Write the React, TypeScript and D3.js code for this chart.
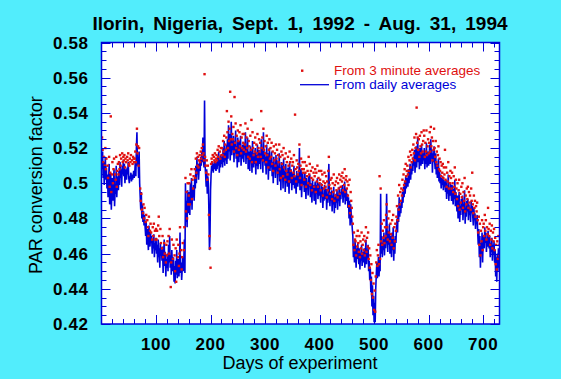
import React from 'react';
import * as d3 from 'd3';

// PAR conversion factor from daily averages, days 1..730
const dailyAvg: number[] = [
  .508,.518,.503,.512,.499,.507,.515,.502,.509,.497,
  .505,.492,.500,.511,.488,.498,.506,.485,.496,.503,
  .490,.501,.508,.487,.497,.494,.510,.492,.500,.504,
  .496,.507,.499,.512,.503,.508,.498,.510,.505,.513,
  .504,.511,.500,.508,.506,.502,.509,.505,.512,.503,
  .500,.504,.503,.506,.501,.505,.502,.504,.507,.503,
  .506,.512,.504,.520,.529,.510,.515,.503,.518,.500,
  .492,.485,.495,.480,.488,.478,.484,.476,.482,.475,
  .470,.478,.465,.474,.468,.462,.476,.469,.464,.472,
  .466,.470,.460,.468,.463,.471,.458,.466,.462,.469,
  .460,.465,.455,.468,.458,.463,.452,.466,.459,.462,
  .456,.464,.449,.458,.468,.453,.461,.447,.457,.452,
  .460,.450,.465,.455,.470,.452,.459,.448,.462,.454,
  .450,.458,.444,.453,.443,.456,.448,.462,.446,.452,
  .457,.447,.453,.472,.449,.455,.445,.451,.458,.450,
  .456,.468,.449,.500,.478,.490,.475,.496,.483,.489,
  .495,.482,.500,.488,.503,.485,.497,.492,.499,.490,
  .503,.497,.510,.500,.515,.505,.511,.502,.508,.513,
  .507,.515,.510,.518,.512,.526,.514,.509,.547,.510,
  .505,.498,.508,.494,.504,.500,.484,.462,.470,.496,
  .505,.510,.507,.512,.506,.511,.508,.513,.509,.507,
  .512,.508,.515,.510,.518,.506,.513,.509,.516,.511,
  .515,.509,.520,.512,.524,.510,.517,.513,.522,.511,
  .525,.514,.533,.518,.528,.513,.521,.535,.516,.523,
  .519,.527,.512,.524,.517,.530,.514,.521,.509,.526,
  .518,.512,.524,.515,.527,.510,.520,.514,.522,.516,
  .512,.523,.516,.529,.511,.520,.514,.526,.508,.518,
  .515,.507,.521,.512,.518,.506,.524,.513,.509,.517,
  .511,.520,.505,.516,.510,.522,.508,.514,.519,.511,
  .517,.508,.525,.513,.520,.506,.529,.512,.518,.510,
  .515,.505,.522,.509,.517,.502,.513,.520,.507,.514,
  .509,.518,.504,.512,.500,.515,.507,.511,.503,.516,
  .508,.513,.499,.510,.505,.517,.501,.509,.496,.512,
  .504,.510,.497,.514,.502,.507,.495,.511,.500,.506,
  .498,.509,.503,.494,.512,.505,.500,.508,.496,.503,
  .506,.499,.510,.497,.504,.501,.494,.507,.502,.498,
  .505,.500,.520,.496,.503,.508,.492,.501,.506,.499,
  .502,.495,.506,.499,.491,.503,.497,.500,.493,.504,
  .498,.505,.492,.500,.496,.489,.502,.495,.499,.490,
  .497,.501,.488,.499,.494,.503,.491,.496,.500,.493,
  .495,.489,.500,.492,.498,.486,.494,.490,.499,.493,
  .491,.497,.485,.494,.489,.500,.511,.492,.487,.495,
  .490,.496,.484,.493,.488,.498,.483,.492,.486,.494,
  .489,.496,.485,.493,.490,.498,.487,.495,.491,.497,
  .494,.499,.489,.496,.492,.501,.488,.495,.497,.490,
  .494,.486,.492,.480,.490,.476,.488,.483,.479,.474,
  .470,.458,.465,.455,.468,.460,.452,.463,.457,.466,
  .459,.454,.463,.451,.460,.456,.465,.453,.458,.461,
  .455,.463,.452,.460,.468,.454,.462,.457,.465,.450,
  .456,.445,.452,.438,.447,.430,.442,.425,.436,.421,
  .432,.421,.440,.448,.455,.446,.452,.458,.447,.454,
  .450,.494,.460,.470,.458,.466,.462,.472,.459,.468,
  .463,.475,.494,.468,.461,.473,.465,.477,.460,.470,
  .464,.458,.472,.462,.475,.456,.468,.460,.470,.466,
  .474,.480,.472,.486,.478,.492,.481,.488,.483,.490,
  .486,.495,.489,.498,.492,.501,.494,.504,.497,.500,
  .503,.498,.508,.500,.506,.511,.502,.509,.505,.512,
  .507,.515,.510,.519,.506,.513,.521,.509,.516,.526,
  .512,.518,.508,.520,.514,.510,.522,.515,.511,.517,
  .513,.520,.508,.516,.511,.523,.509,.514,.518,.510,
  .516,.522,.511,.525,.514,.519,.506,.517,.512,.521,
  .513,.508,.517,.505,.511,.503,.509,.514,.501,.507,
  .500,.505,.497,.503,.499,.504,.496,.502,.498,.501,
  .495,.502,.491,.499,.494,.505,.490,.497,.493,.500,
  .496,.490,.499,.493,.488,.497,.491,.502,.487,.495,
  .490,.484,.493,.480,.489,.495,.478,.487,.482,.491,
  .485,.493,.479,.488,.483,.496,.477,.486,.481,.490,
  .484,.491,.479,.488,.482,.486,.478,.490,.483,.487,
  .481,.476,.486,.479,.483,.474,.480,.477,.482,.472,
  .465,.474,.458,.470,.452,.466,.460,.472,.455,.468,
  .470,.463,.475,.466,.472,.461,.468,.464,.473,.467,
  .463,.470,.458,.466,.461,.469,.456,.465,.460,.467,
  .455,.462,.447,.458,.444,.460,.450,.463,.452,.458,
];

// PAR conversion factor from 3 minute averages, days 1..730 (null = no data)
const minuteAvg: (number | null)[] = [
  .526,.519,.512,.515,null,.510,.520,.508,.514,null,
  .510,.503,null,.515,.498,.506,.538,.495,.505,.512,
  .500,.508,.514,null,.505,.502,.515,.498,.507,.511,
  .505,.512,.508,.516,.510,.514,null,.517,.512,.515,
  .513,.516,.509,.514,.512,null,.515,.513,.517,.511,
  .510,.514,.512,.516,null,.513,.511,.515,.514,.512,
  .514,.518,.512,.522,.531,.517,.521,.510,.520,null,
  .497,.490,.494,.485,null,.483,.488,.480,.486,null,
  .478,.482,null,.479,.475,.470,.481,null,.473,.477,
  .472,null,.468,.475,.470,.477,null,.473,.468,.474,
  .468,.473,null,.476,.481,.470,null,.474,.466,null,
  .463,.470,.458,null,.466,.460,null,.455,.465,.459,
  .467,null,.470,.460,.474,null,.441,.455,.468,null,
  .457,.465,null,.459,.450,.463,.444,.468,null,.458,
  .465,.453,.460,.475,null,.462,.451,.458,.466,null,
  .462,.475,null,.503,.484,.495,.480,.500,.488,.493,
  .500,.488,.505,null,.508,.491,.502,.497,.504,null,
  .508,.503,.514,.506,.517,.510,.515,.509,.513,.516,
  .512,.518,.514,.520,.516,.522,.517,.513,.562,.515,
  .510,.506,.513,.502,.510,.505,.482,.470,.463,.452,
  .511,.514,.512,.516,null,.515,.513,.517,.512,.514,
  .516,.513,.519,.515,.521,null,.518,.514,.520,.516,
  .520,.516,.524,.518,.527,.515,.522,.519,.526,.541,
  .529,.520,.535,.524,.531,.552,.525,.538,.522,.528,
  .525,.532,.518,.549,.523,.534,.520,.527,.516,.530,
  .524,.519,.529,.521,.533,.517,.526,.520,.528,.523,
  .519,.528,.522,.534,.518,.526,.520,.531,.515,.524,
  .521,.514,.527,.519,.536,.512,.529,.520,.516,.523,
  .518,.526,.512,.522,.517,.528,.515,.520,.525,.518,
  .523,.515,.541,.520,.526,.513,.531,.519,.524,.517,
  .521,.512,.527,.516,.523,.509,.519,.525,.514,.520,
  .515,.523,.511,.518,.507,.521,.513,.517,.510,.522,
  .514,.519,.506,.516,.512,.522,.508,.515,.503,.518,
  .511,.516,.504,.520,.509,.514,.502,.517,.507,.512,
  .505,.515,.510,.501,.518,.512,.507,.514,.503,.510,
  .512,.506,.516,.504,.539,.508,.501,.513,.509,.505,
  .511,.507,.522,.503,.510,.514,.499,.508,.512,.506,
  .508,.502,.512,.506,.498,.510,.504,.507,.500,.515,
  .505,.511,.499,.507,.503,.496,.509,.502,.506,.498,
  .504,.508,.495,.506,.501,.510,.498,.503,.507,.500,
  .502,.496,.507,.499,.505,.493,.501,.497,.506,.500,
  .498,.504,.492,.501,.496,.507,.515,.499,.494,.502,
  .497,.503,.491,.500,.495,.505,.490,.499,.493,.501,
  .496,.503,.492,.500,.497,.505,.494,.502,.498,.504,
  .501,.506,.496,.503,.499,.508,.495,.502,.504,.497,
  .501,.493,.499,.487,.502,.483,.495,.490,.486,.481,
  .477,.465,.472,.462,.468,.467,.459,.470,.464,.473,
  .466,.461,.470,.458,.467,.463,.472,.460,.465,.468,
  .462,.470,.459,.467,.475,.461,.469,.464,.472,.457,
  .463,.452,.459,.445,.454,.437,.449,.435,.443,.428,
  .439,.427,.447,.455,.462,.453,.459,.465,.454,.504,
  .457,.497,.467,.477,.465,.473,.469,.479,.466,.475,
  .470,.482,.488,.475,.468,.480,.472,.484,.467,.477,
  .471,.465,.479,.469,.482,.463,.475,.467,.477,.473,
  .481,.487,.479,.493,.485,.499,.488,.495,.490,.497,
  .493,.502,.496,.505,.499,.508,.501,.511,.504,.507,
  .510,.505,.515,.507,.513,.518,.509,.516,.512,.519,
  .514,.522,.517,.526,.513,.520,.528,.543,.523,.526,
  .519,.525,.515,.527,.521,.517,.529,.522,.518,.524,
  .530,.527,.515,.523,.518,.530,.516,.521,.525,.517,
  .523,.529,.518,.532,.521,.526,.513,.524,.519,.531,
  .520,.515,.524,.512,.518,.510,.516,.521,.508,.514,
  .507,.512,.504,.510,.506,.511,.503,.509,.505,.519,
  .502,.509,.498,.506,.501,.512,.497,.504,.500,.507,
  .503,.497,.506,.500,.495,.504,.498,.509,.494,.502,
  .497,.491,.500,.487,.496,.502,.485,.494,.489,.498,
  .492,.500,.486,.495,.490,.503,.484,.493,.488,.497,
  .491,.498,.486,.495,.489,.493,.485,.497,.490,.506,
  .488,.483,.493,.486,.490,.481,.487,.484,.489,.479,
  .472,.481,.465,.477,.459,.473,.467,.479,.462,.475,
  .477,.470,.482,.473,.479,.468,.475,.471,.486,.474,
  .470,.477,.465,.473,.468,.476,.463,.472,.467,.474,
  .462,.469,.454,.465,.451,.467,.457,.470,.459,.465,
];

const xTickValues = [100, 200, 300, 400, 500, 600, 700];
const yTickValues = [0.42, 0.44, 0.46, 0.48, 0.5, 0.52, 0.54, 0.56, 0.58];
const yTickLabels = ['0.42', '0.44', '0.46', '0.48', '0.5', '0.52', '0.54', '0.56', '0.58'];
const titleText = 'Ilorin, Nigeria, Sept. 1, 1992 - Aug. 31, 1994';
const xTitle = 'Days of experiment';
const yTitle = 'PAR conversion factor';
const legendLabels = ['From 3 minute averages', 'From daily averages'];

const BG = '#52EDFC';
const AXIS = '#0000D8';
const BLUE = '#0000D8';
const RED = '#E01010';
const FONT = '"Liberation Sans", Arial, Helvetica, sans-serif';

export default function App() {
  const W = 561, H = 379;
  const L = 101.5, R = 499.5, T = 42.5, B = 324;
  const x = d3.scaleLinear().domain([0, 730]).range([L, R]);
  const y = d3.scaleLinear().domain([0.42, 0.58]).range([B, T]);

  const line = d3.line<number>().x((_, i) => x(i + 1)).y((d) => y(d));
  const path = line(dailyAvg) || '';

  const minorX = d3.range(20, 730, 20);
  const minorY = d3.range(84, 117).map((k) => ({ v: k * 0.005, major: k % 4 === 0 }));

  const reds = minuteAvg
    .map((v, i) => ({ day: i + 1, v }))
    .filter((d) => d.v !== null) as { day: number; v: number }[];

  return (
    <svg width={W} height={H} style={{ position: 'absolute', left: 0, top: 0, display: 'block' }}
      fontFamily={FONT}>
      <defs>
        <clipPath id="plotClip">
          <rect x={L} y={T} width={R - L} height={B - T} />
        </clipPath>
      </defs>
      <rect x={0} y={0} width={W} height={H} fill={BG} />
      <rect x={L} y={T} width={R - L} height={B - T} fill="#ffffff" />

      <g clipPath="url(#plotClip)">
        <path d={path} fill="none" stroke={BLUE} strokeWidth={1.6} strokeLinejoin="miter" />
        {reds.map((d) => (
          <rect key={d.day} x={x(d.day) - 1.2} y={y(d.v) - 1.2} width={2.4} height={2.4} fill={RED} />
        ))}
      </g>

      {/* ticks */}
      <g stroke={AXIS} strokeWidth={1}>
        {minorX.map((d) => {
          const len = d % 100 === 0 ? 9 : 5;
          const xx = Math.round(x(d)) + 0.5;
          return (
            <g key={'xt' + d}>
              <line x1={xx} x2={xx} y1={B} y2={B - len} />
              <line x1={xx} x2={xx} y1={T} y2={T + len} />
            </g>
          );
        })}
        {minorY.map((d) => {
          const len = d.major ? 9 : 5;
          const yy = Math.round(y(d.v)) + 0.5;
          return (
            <g key={'yt' + d.v}>
              <line x1={L} x2={L + len} y1={yy} y2={yy} />
              <line x1={R} x2={R - len} y1={yy} y2={yy} />
            </g>
          );
        })}
      </g>
      <rect x={L} y={T} width={R - L} height={B - T} fill="none" stroke={AXIS} strokeWidth={1.5} />

      {/* tick labels */}
      <g fontSize={17} fontWeight="bold" fill="#000" letterSpacing={0.6}>
        {xTickValues.map((d) => (
          <text key={'xl' + d} x={x(d)} y={349.5} textAnchor="middle">{d}</text>
        ))}
        {yTickValues.map((d, i) => (
          <text key={'yl' + d} x={88.5} y={y(d) + 6} textAnchor="end">{yTickLabels[i]}</text>
        ))}
      </g>

      {/* titles */}
      <text x={300} y={30} textAnchor="middle" fontSize={19} fontWeight="bold" wordSpacing={3.8}
        fill="#000">{titleText}</text>
      <text x={300} y={369} textAnchor="middle" fontSize={18} fill="#000">{xTitle}</text>
      <text transform="translate(41.5,185) rotate(-90)" textAnchor="middle" fontSize={18}
        fill="#000">{yTitle}</text>

      {/* legend */}
      <rect x={301} y={69.5} width={2.4} height={2.4} fill={RED} />
      <text x={334} y={75} fontSize={13.5} fill={RED}>{legendLabels[0]}</text>
      <line x1={300} x2={329} y1={84.7} y2={84.7} stroke={BLUE} strokeWidth={1.3} />
      <text x={334} y={89} fontSize={13.5} fill={BLUE}>{legendLabels[1]}</text>
    </svg>
  );
}
